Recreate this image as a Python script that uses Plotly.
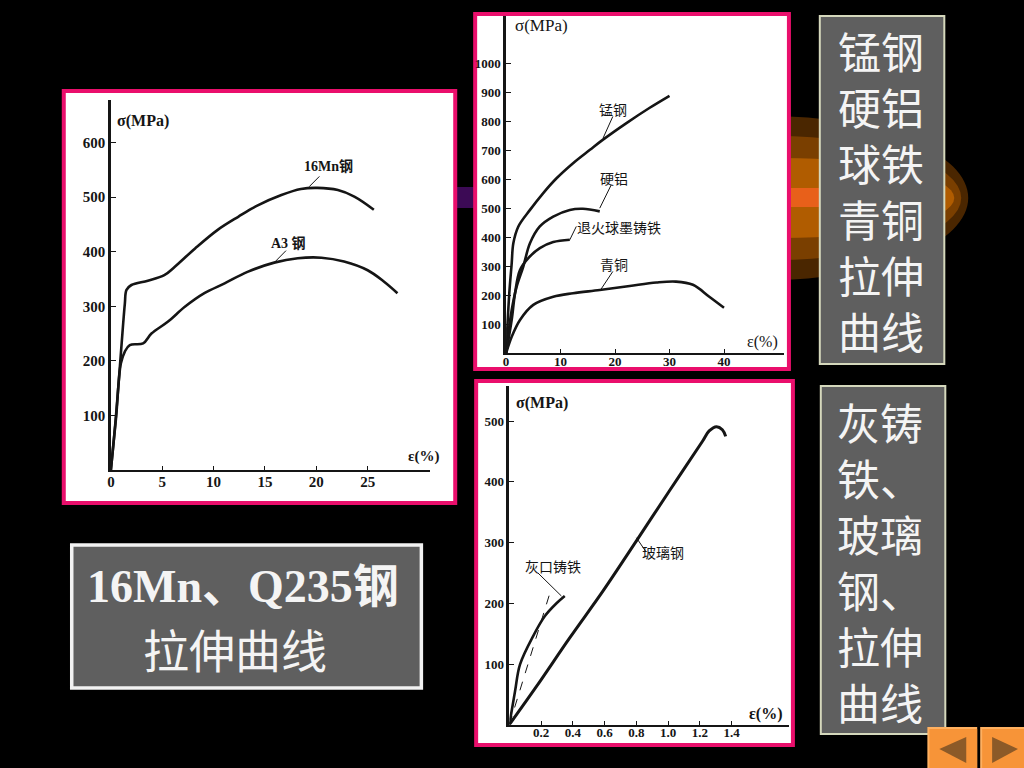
import plotly.graph_objects as go

W, H = 1024, 768
SERIF = "Liberation Serif, Noto Sans CJK SC"
CJK = "Noto Sans CJK SC"
INK = "#151515"
PINK = "#ea0f6c"

# left chart
mn16_x = [0, 0.5, 1.0, 1.36, 1.52, 2.0, 3.6, 5.2, 6.2, 8.2, 10.4, 12.4, 14.3, 16.6, 18.5, 20.1, 22.1, 23.7, 25.6]
mn16_y = [0, 100, 220, 305, 330, 339, 347, 357, 372, 406, 440, 464, 485, 504, 515, 517, 513, 501, 477]
a3_x = [0, 0.5, 0.97, 1.36, 1.84, 3.14, 3.95, 5.57, 7.2, 9.1, 11.07, 13.3, 15.9, 18.2, 20.5, 22.7, 25, 26.6, 27.9]
a3_y = [0, 95, 195, 217, 229, 232, 250, 272, 299, 324, 342, 363, 380, 388, 389, 382, 366, 345, 324]
mn16_lead_x = [19.3, 20.3]
mn16_lead_y = [519, 538]
a3_lead_x = [15.9, 17.05]
a3_lead_y = [380, 402]
left_xticks = [0, 5, 10, 15, 20, 25]
left_yticks = [100, 200, 300, 400, 500, 600]

# top right chart
mang_x = [0, 0.6, 1.04, 1.34, 2.26, 4.4, 6.83, 9.27, 12.3, 15.4, 17.8, 22.1, 26.3, 30]
mang_y = [0, 207, 310, 379, 437, 494, 552, 603, 655, 701, 736, 793, 845, 887]
alu_x = [0, 1.04, 1.95, 3.17, 4.39, 6.2, 8.66, 11.7, 14.1, 17.2]
alu_y = [0, 149, 230, 299, 379, 437, 471, 494, 498, 489]
iron_x = [0, 1.04, 1.65, 2.56, 4.09, 6.2, 8.66, 11.7]
iron_y = [0, 115, 207, 287, 328, 362, 383, 391]
bronze_x = [0, 1.04, 2.56, 5, 8.66, 12.3, 17.2, 22.7, 27.6, 31.2, 34.3, 37.3, 40]
bronze_y = [0, 57, 115, 167, 195, 207, 218, 232, 244, 247, 236, 195, 157]
mang_lead_x = [17.8, 19.6]
mang_lead_y = [741, 816]
alu_lead_x = [17.2, 19.3]
alu_lead_y = [500, 580]
iron_lead_x = [11.7, 12.9]
iron_lead_y = [391, 437]
bronze_lead_x = [17.4, 19.6]
bronze_lead_y = [220, 282]
top_xticks = [0, 10, 20, 30, 40]
top_yticks = [100, 200, 300, 400, 500, 600, 700, 800, 900, 1000]

# bottom right chart
glass_x = [0, 0.171, 0.38, 0.589, 0.798, 1.007, 1.216, 1.258, 1.304, 1.341, 1.362]
glass_y = [0, 63, 143, 220, 302, 385, 467, 484, 491, 486, 475]
cast_x = [0, 0.036, 0.067, 0.15, 0.224, 0.297, 0.349]
cast_y = [0, 55, 99, 146, 179, 200, 212]
secant_x = [0, 0.265]
secant_y = [0, 225]
cast_lead_x = [0.18, 0.328]
cast_lead_y = [250, 212]
glass_lead_x = [0.80, 0.86]
glass_lead_y = [308, 285]
bottom_xticks = [0.2, 0.4, 0.6, 0.8, 1.0, 1.2, 1.4]
bottom_yticks = [100, 200, 300, 400, 500]

side_top_rows = ["锰钢", "硬铝", "球铁", "青铜", "拉伸", "曲线"]
side_bottom_rows = ["灰铸", "铁、", "玻璃", "钢、", "拉伸", "曲线"]


def px(x):
    return (x - 2) / W


def py(y):
    return 1 - y / H


def rect(x0, y0, x1, y1, fill, line=None, width=0):
    return dict(type="rect", xref="paper", yref="paper", x0=px(x0), y0=py(y1), x1=px(x1), y1=py(y0),
                fillcolor=fill, line=dict(color=line or fill, width=width), layer="below")


def oval(x0, y0, x1, y1, fill):
    return dict(type="circle", xref="paper", yref="paper", x0=px(x0), y0=py(y1), x1=px(x1), y1=py(y0),
                fillcolor=fill, line=dict(width=0), layer="below")


def tri(points, fill):
    path = "M " + " L ".join(f"{px(a)} {py(b)}" for a, b in points) + " Z"
    return dict(type="path", xref="paper", yref="paper", path=path, fillcolor=fill, line=dict(width=0))


def text(s, x, y, size, color=INK, family=CJK, anchor="center", bold=False):
    if bold:
        s = f"<b>{s}</b>"
    return dict(text=s, xref="paper", yref="paper", x=px(x), y=py(y), showarrow=False, align=anchor,
                xanchor=anchor, yanchor="middle", font=dict(size=size, color=color, family=family))


fig = go.Figure()


def curve(xs, ys, axis, width=2.6, dash="solid"):
    fig.add_trace(go.Scatter(x=xs, y=ys, mode="lines", xaxis="x" + axis, yaxis="y" + axis,
                             line=dict(color=INK, width=width, dash=dash, shape="spline", smoothing=1),
                             hoverinfo="skip", showlegend=False))


curve(mn16_x, mn16_y, "")
curve(a3_x, a3_y, "")
curve(mn16_lead_x, mn16_lead_y, "", 1)
curve(a3_lead_x, a3_lead_y, "", 1)

curve(mang_x, mang_y, "2")
curve(alu_x, alu_y, "2")
curve(iron_x, iron_y, "2")
curve(bronze_x, bronze_y, "2")
curve(mang_lead_x, mang_lead_y, "2", 1)
curve(alu_lead_x, alu_lead_y, "2", 1)
curve(iron_lead_x, iron_lead_y, "2", 1)
curve(bronze_lead_x, bronze_lead_y, "2", 1)

curve(glass_x, glass_y, "3", 3)
curve(cast_x, cast_y, "3", 2.6)
curve(secant_x, secant_y, "3", 1, "dash")
curve(cast_lead_x, cast_lead_y, "3", 1)
curve(glass_lead_x, glass_lead_y, "3", 1)


def xaxis(x0, x1, xmax, ticks, anchor, size=14, standoff=-3):
    return dict(domain=[px(x0), px(x1)], range=[0, xmax], anchor=anchor, tickvals=ticks,
                ticktext=[f"<b>{t}</b>" for t in ticks], ticks="inside", ticklen=4, tickcolor=INK,
                showgrid=False, zeroline=False, showline=True, linecolor=INK, linewidth=2,
                ticklabelstandoff=standoff, tickfont=dict(family=SERIF, size=size, color=INK))


def yaxis(y_bottom, y_top, ymax, ticks, anchor, size=14):
    return dict(domain=[py(y_bottom), py(y_top)], range=[0, ymax], anchor=anchor, tickvals=ticks,
                ticktext=[f"<b>{t}</b>" for t in ticks], ticks="inside", ticklen=5, tickcolor=INK,
                showgrid=False, zeroline=False, showline=True, linecolor=INK, linewidth=2.5,
                tickfont=dict(family=SERIF, size=size, color=INK))


shapes = [
    # glow behind the panels
    rect(455, 187, 475, 208, "#3c0a55"),
    oval(570, 116, 970, 280, "#4a2600"),
    oval(590, 136, 963, 260, "#7a3f00"),
    oval(610, 158, 956, 238, "#b05c00"),
    rect(785, 188, 825, 207, "#e8601a"),
    # white chart panels
    rect(62, 91, 455, 503, "#ffffff", PINK, 4),
    rect(475, 14, 790, 369, "#ffffff", PINK, 4),
    rect(476, 381, 794, 745, "#ffffff", PINK, 4),
    # caption boxes
    rect(821, 16, 946, 364, "#5f5f5f", "#d5d8bc", 2),
    rect(822, 386, 947, 734, "#5f5f5f", "#d5d8bc", 2),
    rect(70, 545, 421, 688, "#5f5f5f", "#f2f2f2", 3.5),
    # navigation buttons
    rect(929, 727, 979, 768, "#ffb060"),
    rect(931, 729, 979, 768, "#f79438"),
    rect(982, 727, 1026, 768, "#ffb060"),
    rect(984, 729, 1026, 768, "#f79438"),
    tri([(941, 749), (968, 737), (968, 763)], "#8c5a28"),
    tri([(994, 737), (1020, 749), (994, 763)], "#8c5a28"),
]

annotations = [
    text("σ(MPa)", 142, 121, 16, family=SERIF, bold=True),
    text("16Mn钢", 328, 167, 14, family=SERIF, bold=True),
    text("A3 钢", 288, 243, 14, family=SERIF, bold=True),
    text("ε(%)", 423, 456, 15, family=SERIF, bold=True),
    text("σ(MPa)", 542, 26, 17, family=SERIF),
    text("锰钢", 613, 109, 14),
    text("硬铝", 614, 178, 14),
    text("退火球墨铸铁", 619, 227, 14),
    text("青铜", 614, 264, 14),
    text("ε(%)", 763, 342, 16, family=SERIF),
    text("σ(MPa)", 542, 403, 16, family=SERIF, bold=True),
    text("灰口铸铁", 553, 566, 14),
    text("玻璃钢", 664, 552, 14),
    text("ε(%)", 767, 714, 16, family=SERIF, bold=True),
    text("16Mn、Q235钢", 242, 586, 46, "#f4f4f4", SERIF, bold=True),
    text("拉伸曲线", 234, 648, 46, "#f4f4f4"),
    text("<br>".join(side_top_rows), 882, 190, 43, "#f4f4f4"),
    text("<br>".join(side_bottom_rows), 836, 561, 43, "#f4f4f4", anchor="left"),
]

fig.update_layout(
    width=W, height=H, autosize=False, margin=dict(l=0, r=0, t=0, b=0),
    paper_bgcolor="#000000", plot_bgcolor="rgba(0,0,0,0)", showlegend=False,
    xaxis=xaxis(109.3, 430, 31.1, left_xticks, "y", 15, -3),
    yaxis=yaxis(470, 100, 678, left_yticks, "x", 15),
    xaxis2=xaxis(506, 785, 51, top_xticks, "y2", 13, -5),
    yaxis2=yaxis(353.3, 16, 1162, top_yticks, "x2", 13),
    xaxis3=xaxis(509.3, 790, 1.76, bottom_xticks, "y3", 13, -5),
    yaxis3=yaxis(724.7, 386, 558, bottom_yticks, "x3", 13),
    shapes=shapes, annotations=annotations,
)

# page margin would push the 1024 wide figure off the window
fig.write_html("out.html", config=dict(displayModeBar=False),
               post_script="document.body.style.margin='0';document.body.style.background='#000';")
